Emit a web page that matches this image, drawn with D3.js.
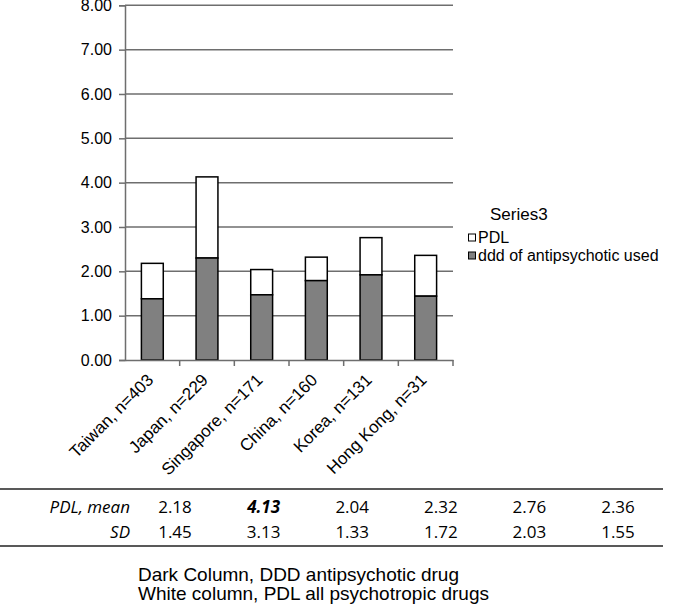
<!DOCTYPE html>
<html>
<head>
<meta charset="utf-8">
<script src="https://d3js.org/d3.v7.min.js"></script>
<style>
  body { margin: 0; background: #fff; }
  svg { font-family: "Liberation Sans", Arial, sans-serif; }
  .grid line { stroke: #6e6e6e; stroke-width: 1.5; }
  .tbl text { font-family: "Open Sans", "Noto Sans", sans-serif; font-size: 17px; }
</style>
</head>
<body>
<svg width="673" height="605"></svg>
<script>
const countries = ['Taiwan, n=403', 'Japan, n=229', 'Singapore, n=171', 'China, n=160', 'Korea, n=131', 'Hong Kong, n=31'];
const dddValues = [1.38, 2.30, 1.47, 1.79, 1.92, 1.44];
const pdlMean = [2.18, 4.13, 2.04, 2.32, 2.76, 2.36];
const pdlSD = [1.45, 3.13, 1.33, 1.72, 2.03, 1.55];
const yTicks = [0, 1, 2, 3, 4, 5, 6, 7, 8];

const svg = d3.select('svg');
const plotLeft = 125, plotRight = 453, plotTop = 5.3, plotBottom = 360;

const x = d3.scaleBand().domain(countries).range([plotLeft, plotRight]);
const y = d3.scaleLinear().domain([0, 8]).range([plotBottom, plotTop]);
const barW = x.bandwidth() * 0.4;

// gridlines
svg.append('g').attr('class', 'grid')
  .selectAll('line')
  .data(yTicks.filter(d => d > 0))
  .join('line')
  .attr('x1', plotLeft).attr('x2', plotRight)
  .attr('y1', d => y(d)).attr('y2', d => y(d));

// y axis
const yAxis = svg.append('g')
  .attr('transform', `translate(${plotLeft},0)`)
  .call(d3.axisLeft(y).tickValues(yTicks).tickFormat(d3.format('.2f')).tickSize(6).tickPadding(7));
yAxis.select('.domain').attr('stroke', '#6e6e6e').attr('stroke-width', 1.5);
yAxis.selectAll('.tick line').attr('stroke', '#6e6e6e').attr('stroke-width', 1.5);
yAxis.selectAll('text').attr('font-size', 16).attr('fill', '#000')
  .attr('font-family', '"Liberation Sans", Arial, sans-serif');

// bars
const bars = svg.append('g');
bars.selectAll('rect.total')
  .data(countries)
  .join('rect')
  .attr('class', 'total')
  .attr('x', d => x(d) + (x.bandwidth() - barW) / 2)
  .attr('width', barW)
  .attr('y', (d, i) => y(pdlMean[i]))
  .attr('height', (d, i) => y(dddValues[i]) - y(pdlMean[i]))
  .attr('fill', '#fff').attr('stroke', '#000').attr('stroke-width', 1.5);
bars.selectAll('rect.ddd')
  .data(countries)
  .join('rect')
  .attr('class', 'ddd')
  .attr('x', d => x(d) + (x.bandwidth() - barW) / 2)
  .attr('width', barW)
  .attr('y', (d, i) => y(dddValues[i]))
  .attr('height', (d, i) => y(0) - y(dddValues[i]))
  .attr('fill', '#808080').attr('stroke', '#000').attr('stroke-width', 1.5);

// x axis
const xAxis = svg.append('g')
  .attr('transform', `translate(0,${plotBottom})`)
  .call(d3.axisBottom(x).tickSize(0).tickPadding(0));
xAxis.select('.domain').attr('stroke', '#6e6e6e').attr('stroke-width', 1.5);
xAxis.selectAll('.tick text').remove();
// category boundary ticks
svg.append('g').selectAll('line')
  .data(countries)
  .join('line')
  .attr('x1', d => x(d) + x.bandwidth()).attr('x2', d => x(d) + x.bandwidth())
  .attr('y1', plotBottom).attr('y2', plotBottom + 6)
  .attr('stroke', '#6e6e6e').attr('stroke-width', 1.5);
svg.append('g').selectAll('text')
  .data(countries)
  .join('text')
  .attr('transform', d => `translate(${x(d) + x.bandwidth() / 2 + 2},${plotBottom + 21}) rotate(-45)`)
  .attr('text-anchor', 'end')
  .attr('font-size', 17)
  .text(d => d);

// legend
const lg = svg.append('g').attr('transform', 'translate(468,0)');
lg.append('text').attr('x', 22).attr('y', 220).attr('font-size', 17).text('Series3');
const legendItems = [
  { label: 'PDL', fill: '#fff', y: 243 },
  { label: 'ddd of antipsychotic used', fill: '#808080', y: 261 }
];
lg.selectAll('rect')
  .data(legendItems)
  .join('rect')
  .attr('x', 0.5).attr('y', d => d.y - 9).attr('width', 7).attr('height', 7)
  .attr('fill', d => d.fill).attr('stroke', '#000').attr('stroke-width', 1);
lg.selectAll('text.item')
  .data(legendItems)
  .join('text')
  .attr('class', 'item')
  .attr('x', 10).attr('y', d => d.y)
  .attr('font-size', 16)
  .text(d => d.label);

// table
const tbl = svg.append('g').attr('class', 'tbl');
tbl.append('line').attr('x1', 0).attr('x2', 663).attr('y1', 489).attr('y2', 489)
  .attr('stroke', '#222').attr('stroke-width', 1.5);
tbl.append('line').attr('x1', 0).attr('x2', 663).attr('y1', 546).attr('y2', 546)
  .attr('stroke', '#222').attr('stroke-width', 1.5);
const colX = d3.scalePoint().domain(countries).range([175, 618]);
tbl.append('text').attr('x', 130).attr('y', 513).attr('text-anchor', 'end')
  .attr('font-style', 'italic').text('PDL, mean');
tbl.append('text').attr('x', 130).attr('y', 538).attr('text-anchor', 'end')
  .attr('font-style', 'italic').text('SD');
tbl.selectAll('text.mean')
  .data(pdlMean)
  .join('text')
  .attr('class', 'mean')
  .attr('x', (d, i) => colX(countries[i])).attr('y', 513)
  .attr('text-anchor', 'middle')
  .attr('font-weight', d => d === d3.max(pdlMean) ? 'bold' : null)
  .attr('font-style', d => d === d3.max(pdlMean) ? 'italic' : null)
  .text(d => d.toFixed(2));
tbl.selectAll('text.sd')
  .data(pdlSD)
  .join('text')
  .attr('class', 'sd')
  .attr('x', (d, i) => colX(countries[i])).attr('y', 538)
  .attr('text-anchor', 'middle')
  .text(d => d.toFixed(2));

// footnote
svg.append('text').attr('x', 138).attr('y', 581).attr('font-size', 19)
  .text('Dark Column, DDD antipsychotic drug');
svg.append('text').attr('x', 138).attr('y', 600).attr('font-size', 19)
  .text('White column, PDL all psychotropic drugs');
</script>
</body>
</html>
